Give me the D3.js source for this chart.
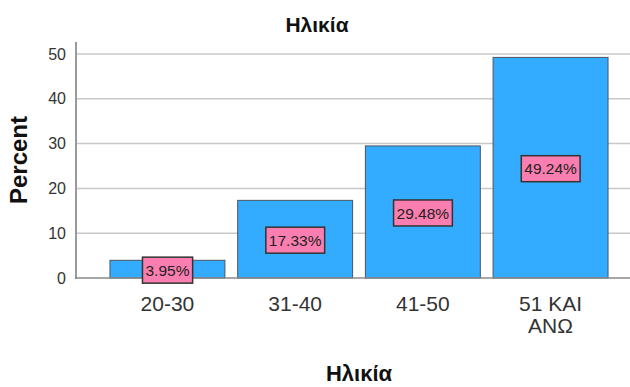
<!DOCTYPE html>
<html><head><meta charset="utf-8">
<script src="https://cdn.jsdelivr.net/npm/d3@7"></script>
<style>body{margin:0;background:#fff}svg{display:block}text{font-family:"Liberation Sans",Arial,sans-serif}</style>
</head><body><svg id="c" width="630" height="387"></svg>
<script>
const categories = ["20-30", "31-40", "41-50", "51 ΚΑΙ ΑΝΩ"];
const percents = [3.95, 17.33, 29.48, 49.24];
const yTicks = [0, 10, 20, 30, 40, 50];
const title = "Ηλικία";
const xTitle = "Ηλικία";
const yTitle = "Percent";

const svg = d3.select("#c");
const W = 630, H = 387;
const x = d3.scaleBand().domain(categories).range([76, 642]).paddingInner(0.1).paddingOuter(0.266);
const y = d3.scaleLinear().domain([0, 50]).range([278, 54]);

// gridlines
svg.append("g").selectAll("line").data(yTicks.filter(d => d > 0)).join("line")
  .attr("x1", 76).attr("x2", W).attr("y1", d => y(d)).attr("y2", d => y(d))
  .attr("stroke", "#c8c8c8").attr("stroke-width", 1.5);

// bars
svg.append("g").selectAll("rect").data(percents).join("rect")
  .attr("x", (d, i) => x(categories[i])).attr("width", x.bandwidth())
  .attr("y", d => y(d)).attr("height", d => y(0) - y(d))
  .attr("fill", "#33abff").attr("stroke", "#4a5560").attr("stroke-width", 1);

// axes
const yAxis = svg.append("g").attr("transform", "translate(76,0)")
  .call(d3.axisLeft(y).tickValues(yTicks).tickSize(0).tickPadding(10));
yAxis.select(".domain").remove();
yAxis.selectAll("text").attr("font-size", 16).attr("fill", "#333");
svg.append("line").attr("x1", 76).attr("x2", 76).attr("y1", 42).attr("y2", 279)
  .attr("stroke", "#9a9a9a").attr("stroke-width", 2);
svg.append("line").attr("x1", 75).attr("x2", W).attr("y1", 278).attr("y2", 278)
  .attr("stroke", "#8a8a8a").attr("stroke-width", 1.5);

// x labels
const xl = svg.append("g").selectAll("text").data(categories).join("text")
  .attr("x", d => x(d) + x.bandwidth() / 2).attr("y", 311)
  .attr("text-anchor", "middle").attr("font-size", 21).attr("fill", "#333");
xl.each(function(d) {
  const words = d === "51 ΚΑΙ ΑΝΩ" ? ["51 ΚΑΙ", "ΑΝΩ"] : [d];
  d3.select(this).selectAll("tspan").data(words).join("tspan")
    .attr("x", x(d) + x.bandwidth() / 2).attr("dy", (w, i) => i ? 22 : 0).text(w => w);
});

// value labels
const lab = svg.append("g").selectAll("g").data(percents).join("g")
  .attr("transform", (d, i) => `translate(${x(categories[i]) + x.bandwidth() / 2},${(y(d) + y(0)) / 2 + 1})`);
lab.append("text").attr("text-anchor", "middle").attr("dy", "0.36em")
  .attr("font-size", 15.5).attr("fill", "#222").text(d => d.toFixed(2) + "%");
lab.each(function() {
  const g = d3.select(this), b = g.select("text").node().getBBox();
  g.insert("rect", "text").attr("x", b.x - 3).attr("y", -13).attr("width", b.width + 6).attr("height", 26)
    .attr("fill", "#fb7eb0").attr("stroke", "#333").attr("stroke-width", 1.5);
});

// titles
svg.append("text").attr("x", 317).attr("y", 32).attr("text-anchor", "middle")
  .attr("font-size", 21).attr("font-weight", "bold").attr("fill", "#111").text(title);
svg.append("text").attr("x", 359).attr("y", 381).attr("text-anchor", "middle")
  .attr("font-size", 22).attr("font-weight", "bold").attr("fill", "#111").text(xTitle);
svg.append("text").attr("transform", "translate(27,160) rotate(-90)").attr("text-anchor", "middle")
  .attr("font-size", 24).attr("font-weight", "bold").attr("fill", "#111").text(yTitle);
</script></body></html>
